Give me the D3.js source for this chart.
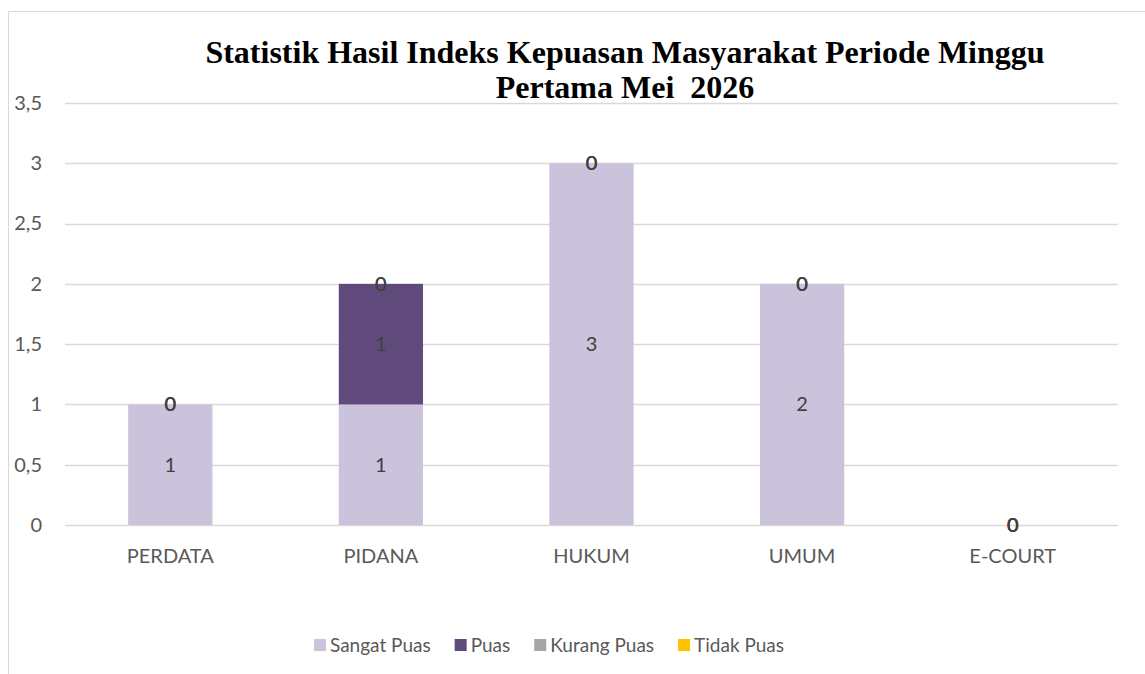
<!DOCTYPE html>
<html>
<head>
<meta charset="utf-8">
<script src="https://cdn.jsdelivr.net/npm/d3@7"></script>
<style>
  body { margin: 0; background: #fff; }
  text { font-family: Lato, "Open Sans", sans-serif; }
</style>
</head>
<body>
<div id="vis"></div>
<script>
const width = 1145;
const height = 674;

// Data
const categories = ["PERDATA", "PIDANA", "HUKUM", "UMUM", "E-COURT"];
const seriesNames = ["Sangat Puas", "Puas", "Kurang Puas", "Tidak Puas"];
const sangatPuas = [1, 1, 3, 2, 0];
const puas = [0, 1, 0, 0, 0];
const kurangPuas = [0, 0, 0, 0, 0];
const tidakPuas = [0, 0, 0, 0, 0];
const yTicks = [0, 0.5, 1, 1.5, 2, 2.5, 3, 3.5];
const titleLines = ["Statistik Hasil Indeks Kepuasan Masyarakat Periode Minggu", "Pertama Mei  2026"];

const colors = ["#CBC2DB", "#604A7B", "#A5A5A5", "#FFC000"];

const table = categories.map((c, i) => ({
  cat: c,
  "Sangat Puas": sangatPuas[i],
  "Puas": puas[i],
  "Kurang Puas": kurangPuas[i],
  "Tidak Puas": tidakPuas[i]
}));

const svg = d3.select("#vis").append("svg")
  .attr("width", width)
  .attr("height", height);

// chart frame (partially cropped)
svg.append("path")
  .attr("d", `M8.5,${height} V11.5 H${width}`)
  .attr("fill", "none")
  .attr("stroke", "#D9D9D9")
  .attr("stroke-width", 1);

const x = d3.scaleBand()
  .domain(categories)
  .range([65, 1118])
  .paddingInner(0.6)
  .paddingOuter(0.3);

const y = d3.scaleLinear()
  .domain([0, 3.5])
  .range([525, 103]);

// gridlines
svg.append("g")
  .selectAll("line")
  .data(yTicks)
  .enter().append("line")
  .attr("x1", 65)
  .attr("x2", 1118)
  .attr("y1", d => Math.round(y(d)) + 0.5)
  .attr("y2", d => Math.round(y(d)) + 0.5)
  .attr("stroke", "#D9D9D9")
  .attr("stroke-width", 1.3);

// y axis labels
const yAxis = d3.axisLeft(y)
  .tickValues(yTicks)
  .tickSize(0)
  .tickPadding(0)
  .tickFormat(d => String(d).replace(".", ","));

svg.append("g")
  .attr("transform", "translate(42,0)")
  .call(yAxis)
  .call(g => g.select(".domain").remove())
  .selectAll("text")
  .attr("fill", "#595959")
  .style("font-size", "20px");

// x axis labels
const xAxis = d3.axisBottom(x).tickSize(0).tickPadding(0);
svg.append("g")
  .attr("transform", "translate(0,549)")
  .call(xAxis)
  .call(g => g.select(".domain").remove())
  .selectAll("text")
  .attr("fill", "#595959")
  .style("font-size", "20px");

// stacked bars
const stack = d3.stack().keys(seriesNames);
const stacked = stack(table);

const layers = svg.append("g")
  .selectAll("g")
  .data(stacked)
  .enter().append("g")
  .attr("fill", (d, i) => colors[i]);

layers.selectAll("rect")
  .data(d => d)
  .enter().append("rect")
  .attr("x", d => x(d.data.cat))
  .attr("y", d => y(d[1]))
  .attr("width", x.bandwidth())
  .attr("height", d => y(d[0]) - y(d[1]));

// data labels
const labels = svg.append("g");
stacked.forEach(layer => {
  labels.selectAll(null)
    .data(layer)
    .enter().append("text")
    .attr("x", d => x(d.data.cat) + x.bandwidth() / 2)
    .attr("y", d => (y(d[0]) + y(d[1])) / 2)
    .attr("dy", "0.35em")
    .attr("text-anchor", "middle")
    .attr("fill", "#404040")
    .style("font-size", "20px")
    .text(d => d[1] - d[0]);
});

// title
svg.append("text")
  .attr("x", 625)
  .attr("y", 63)
  .attr("text-anchor", "middle")
  .style("font-family", "'Liberation Serif', 'Times New Roman', serif")
  .style("font-weight", "bold")
  .style("font-size", "32px")
  .style("white-space", "pre")
  .attr("fill", "#000")
  .selectAll("tspan")
  .data(titleLines)
  .enter().append("tspan")
  .attr("x", 625)
  .attr("dy", (d, i) => i === 0 ? 0 : 35)
  .text(d => d);

// legend
const legend = svg.append("g");
let lx = 0;
seriesNames.forEach((name, i) => {
  const item = legend.append("g").attr("transform", `translate(${lx},0)`);
  item.append("rect")
    .attr("x", 0)
    .attr("y", -6)
    .attr("width", 12)
    .attr("height", 12)
    .attr("fill", colors[i]);
  const t = item.append("text")
    .attr("x", 16)
    .attr("dy", "0.35em")
    .attr("fill", "#595959")
    .style("font-size", "19px")
    .text(name);
  lx += 16 + t.node().getComputedTextLength() + 24;
});
const legendWidth = lx - 24;
legend.attr("transform", `translate(${549 - legendWidth / 2},645)`);
</script>
</body>
</html>
